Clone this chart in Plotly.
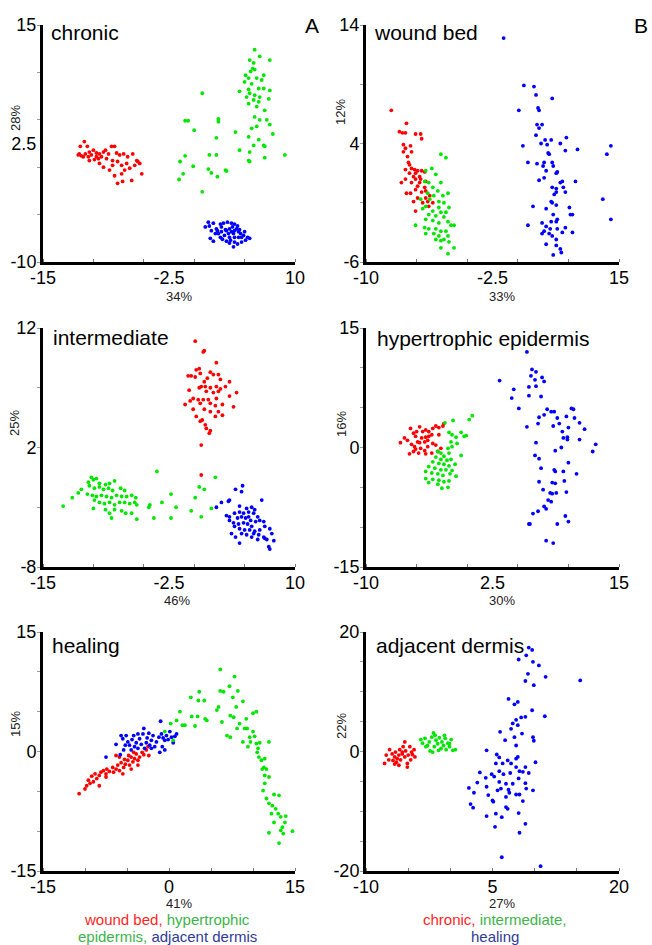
import plotly.graph_objects as go

W, H = 652, 945
FONT = "Liberation Sans, Arial, sans-serif"
RED, GREEN, BLUE = "#ff0000", "#00e600", "#0000ff"

# ---------------- Panel A1: chronic ----------------
chronic_red_x = [-10.9,-11.3,-10.6,-11.5,-11.2,-10.8,-10.4,-10.0,-9.7,-9.4,-9.0,-8.8,-8.5,-8.2,-7.9,-7.7,-7.4,-7.0,-6.6,-6.1,-5.7,-5.4,-5.2,-6.2,-7.1,-7.6,-7.9,-8.4,-9.0,-9.4,-9.9,-10.4,-11.0,-10.5,-9.7,-9.2,-8.7,-8.1,-7.6,-7.2,-6.7,-6.4,-5.9,-5.6,-7.2,-6.9,-8.1,-9.5,-10.2,-11.4]
chronic_red_y = [2.7,2.2,2.2,1.3,1.2,1.4,1.6,1.8,1.5,1.4,1.6,1.8,1.4,2.2,2.2,1.5,1.3,1.4,1.1,1.4,0.7,0.4,-0.7,-1.4,-1.5,-1.7,-0.9,-0.3,0.0,0.4,0.8,0.7,1.1,1.1,1.1,1.1,0.9,0.7,0.6,0.2,0.4,-0.1,0.2,0.6,-0.7,-0.3,0.2,0.9,1.3,1.4]
chronic_green_x = [6.0,6.5,5.5,7.5,5.9,5.8,5.6,6.0,5.1,6.9,5.4,6.2,6.7,5.0,5.7,5.4,4.5,6.4,6.9,7.5,5.5,6.0,5.2,6.5,7.4,5.9,5.4,6.4,6.2,7.0,6.0,6.5,7.2,7.5,5.7,6.2,7.8,5.4,6.4,6.9,5.9,7.0,5.5,4.5,7.0,5.4,5.5,9.0,4.1,2.4,2.4,0.8,-0.6,-0.9,0.0,2.2,-0.9,-1.4,-0.1,1.5,2.2,3.1,3.2,1.4,1.7,2.3,-1.1,-1.5,0.8]
chronic_green_y = [12.4,11.7,11.3,11.3,11.0,10.4,10.1,10.3,9.7,9.7,9.4,9.4,9.2,9.0,8.8,8.2,8.0,8.3,8.3,8.1,7.8,7.6,7.4,7.4,7.2,7.1,6.7,6.9,6.4,6.0,5.3,5.0,5.0,4.5,4.1,4.3,3.5,3.2,2.9,2.3,2.3,2.2,1.6,1.8,1.0,0.7,0.6,1.3,3.7,5.1,4.8,7.8,4.9,4.9,3.9,3.1,1.2,0.6,0.1,1.3,1.3,-0.3,-0.4,-0.2,-0.6,-1.0,-0.7,-1.3,-2.6]
chronic_blue_x = [1.4,1.9,1.5,1.1,1.7,2.2,2.6,2.9,3.3,3.7,4.0,4.3,3.8,3.5,3.1,2.7,2.4,2.1,1.6,1.9,2.6,3.0,3.4,3.7,4.0,4.4,4.6,4.9,5.3,5.5,5.1,4.7,4.3,3.9,3.5,3.2,2.8,4.0,4.4,3.5,3.2,3.9,4.2,4.5,2.7,2.3,3.6,4.0,4.7,5.0]
chronic_blue_y = [-5.8,-5.9,-6.2,-6.3,-6.7,-6.5,-6.0,-5.9,-5.8,-5.9,-6.0,-6.2,-6.3,-6.5,-6.6,-6.8,-7.0,-7.0,-7.5,-7.8,-7.4,-7.2,-7.0,-6.8,-6.7,-6.8,-7.0,-7.2,-7.4,-7.5,-7.7,-7.9,-8.1,-8.4,-8.0,-7.8,-7.6,-7.4,-7.4,-7.4,-6.7,-7.0,-6.5,-6.6,-6.3,-6.7,-7.7,-7.9,-7.4,-6.8]

# ---------------- Panel B1: wound bed ----------------
wound_red_x = [-7.5,-6.0,-6.7,-6.4,-6.1,-5.1,-4.6,-4.5,-6.3,-6.1,-5.6,-6.3,-5.5,-5.9,-5.8,-5.5,-5.2,-4.9,-4.5,-5.1,-5.7,-5.3,-4.7,-4.2,-6.1,-6.5,-5.1,-4.7,-5.5,-4.9,-4.2,-4.1,-4.5,-6.0,-3.7,-4.1,-4.9,-5.3,-4.4,-3.9,-3.4,-5.1,-3.8,-5.6,-5.1,-4.6,-4.1,-6.1,-5.7]
wound_red_y = [6.8,5.7,5.0,4.9,4.9,4.8,4.8,4.4,3.9,3.6,3.8,3.3,3.3,2.9,2.4,1.9,1.8,1.7,1.7,1.5,1.5,1.2,1.2,1.6,1.0,0.7,1.0,0.7,0.7,0.4,0.3,0.0,-0.1,-0.2,-0.4,-0.6,-0.6,-0.9,-1.0,-0.9,-1.0,-1.7,-1.3,-0.2,0.1,1.0,0.8,1.8,2.2]
wound_green_x = [-2.6,-2.1,-3.5,-4.1,-3.1,-2.6,-3.8,-4.2,-3.4,-2.9,-1.9,-2.4,-3.3,-3.7,-2.3,-2.8,-1.8,-4.4,-3.4,-2.6,-3.8,-3.1,-2.3,-1.9,-4.1,-3.4,-2.8,-1.6,-1.3,-5.1,-4.2,-3.8,-3.1,-2.6,-2.1,-4.1,-3.3,-2.8,-1.9,-3.1,-2.3,-2.6,-1.8,-1.3,-2.6,-1.9,-2.8,-2.1,-3.9,-4.6,-4.1]
wound_green_y = [3.1,2.8,1.9,1.7,1.4,0.7,0.7,0.8,0.3,0.0,-0.2,-0.4,-0.4,-0.7,-1.0,-0.9,-1.4,-1.5,-1.7,-1.8,-2.0,-2.1,-2.2,-2.6,-2.4,-2.5,-2.7,-2.9,-2.9,-2.9,-3.1,-3.2,-3.2,-3.4,-3.4,-3.6,-3.6,-3.8,-3.8,-4.1,-4.1,-4.2,-4.3,-4.8,-4.8,-5.3,-1.4,-1.8,-0.2,-0.7,-1.3]
wound_blue_x = [3.6,5.6,6.6,6.8,8.4,5.1,7.0,7.1,6.9,7.4,7.1,6.8,5.5,7.7,8.3,7.3,7.9,8.0,8.1,9.2,9.8,9.7,10.9,14.2,13.8,6.0,6.9,7.6,7.5,7.8,8.4,8.5,8.9,8.8,7.1,7.6,9.4,9.2,10.7,8.4,8.8,9.5,8.8,9.7,8.6,8.3,8.4,6.5,7.8,8.8,10.1,10.4,10.2,13.4,14.2,8.5,8.9,8.8,8.3,7.4,6.0,7.8,8.2,8.9,9.7,7.6,7.4,8.1,9.4,10.4,8.4,8.8,7.8,9.2,8.5,9.3,8.8]
wound_blue_y = [12.9,8.9,8.8,8.1,7.8,6.8,7.0,6.8,5.6,5.6,5.3,4.7,3.8,4.3,4.3,4.0,3.9,3.2,3.1,4.0,4.5,3.4,3.5,3.8,3.1,2.4,2.3,2.4,2.1,1.7,2.4,2.1,1.6,1.5,0.9,1.1,0.8,0.7,0.8,0.3,0.2,0.3,-0.1,-0.1,-0.3,-0.9,-1.0,-1.3,-1.5,-1.2,-1.4,-2.0,-2.0,-0.7,-2.4,-2.0,-2.4,-2.6,-2.6,-2.7,-2.9,-3.0,-3.2,-3.2,-3.1,-3.4,-3.6,-3.6,-3.5,-3.5,-3.8,-4.1,-4.5,-4.9,-5.4,-5.2,-4.6]

# ---------------- Panel A2: intermediate ----------------
inter_red_x = [0.1,1.0,0.9,2.2,0.5,0.2,0.6,-0.6,-0.3,0.1,1.6,1.9,2.4,1.3,1.0,2.6,3.5,1.1,0.5,0.7,1.6,2.2,2.6,3.1,-0.5,1.2,1.9,2.4,4.2,-0.1,0.4,0.9,1.4,2.2,3.5,-0.9,-0.4,0.6,1.6,2.1,2.8,3.9,-0.1,1.0,1.6,2.4,2.8,0.2,0.8,2.1,1.1,1.2,1.6,1.5,0.6,0.7,0.7]
inter_red_y = [10.9,10.1,10.0,9.1,8.6,8.5,8.2,8.0,8.0,7.9,8.3,8.1,8.1,7.8,7.5,7.7,7.5,7.1,7.0,7.1,7.0,7.1,6.9,7.1,6.8,6.7,6.6,6.7,6.6,6.1,6.0,6.0,6.0,6.1,6.3,5.6,5.9,5.7,5.7,5.5,5.6,5.4,5.2,5.2,5.0,5.0,4.7,4.6,4.3,4.6,3.9,3.6,3.4,3.2,4.2,2.2,-0.3]
inter_green_x = [-13.0,-12.1,-11.5,-11.2,-10.5,-10.2,-10.0,-10.4,-9.7,-9.4,-8.8,-8.4,-7.9,-9.9,-9.4,-9.0,-8.5,-8.1,-7.3,-6.9,-10.6,-10.1,-9.7,-9.2,-8.7,-8.2,-7.7,-7.2,-6.7,-6.2,-5.8,-9.9,-9.4,-8.9,-8.4,-7.9,-7.4,-6.9,-6.4,-5.9,-10.0,-8.8,-8.4,-7.9,-7.2,-6.8,-6.2,-5.7,-8.2,-5.7,-4.4,-4.5,-4.0,-3.7,-3.2,-2.3,-2.3,-1.8,-0.3,0.1,0.5,1.0,0.7,1.7,2.1]
inter_green_y = [-2.9,-2.2,-1.8,-1.5,-0.9,-0.5,-0.7,-1.2,-0.6,-1.0,-1.1,-1.0,-0.8,-1.4,-1.3,-1.5,-1.4,-1.6,-1.4,-1.6,-1.9,-2.0,-2.1,-2.0,-2.1,-2.2,-2.0,-2.1,-2.1,-2.0,-2.2,-2.4,-2.6,-2.7,-2.6,-2.8,-2.6,-2.6,-2.7,-2.6,-3.1,-3.2,-3.5,-3.2,-3.3,-3.5,-3.5,-2.8,-3.9,-4.0,-2.8,-3.0,-3.9,0.0,-2.6,-1.9,-3.9,-3.0,-3.3,-2.2,-1.3,-1.5,-3.8,-3.1,-0.5]
inter_blue_x = [4.1,4.8,4.7,3.5,2.7,3.4,2.2,4.5,5.2,5.7,6.0,6.7,3.2,3.5,4.0,4.5,4.9,5.4,5.9,6.3,4.3,4.7,5.1,5.6,6.1,6.5,3.9,4.4,4.9,5.3,5.7,6.9,4.0,4.5,5.0,5.5,6.0,6.5,7.0,7.5,3.7,4.7,5.2,5.9,6.4,6.9,7.7,4.1,5.7,6.3,7.2,7.9,4.5,7.4,7.5,7.0,3.5,5.4]
inter_blue_y = [-1.5,-1.2,-1.7,-2.4,-2.6,-2.5,-3.0,-2.9,-3.1,-3.0,-3.2,-2.4,-3.7,-3.8,-3.5,-3.4,-3.5,-3.4,-3.5,-3.8,-3.9,-3.8,-3.9,-4.1,-4.2,-4.1,-4.3,-4.4,-4.3,-4.4,-4.6,-4.2,-4.6,-4.8,-4.9,-4.9,-5.0,-4.9,-4.6,-4.8,-5.2,-5.2,-5.3,-5.2,-5.3,-5.5,-5.2,-5.5,-5.5,-5.7,-5.7,-5.8,-6.0,-6.3,-6.5,-5.6,-4.1,-3.8]

# ---------------- Panel B2: hypertrophic epidermis ----------------
hyper_red_x = [-6.6,-6.2,-5.9,-5.6,-5.3,-5.1,-4.7,-4.4,-4.1,-3.8,-3.4,-3.1,-2.8,-2.4,-2.3,-5.5,-5.2,-4.9,-4.5,-4.1,-3.9,-3.5,-5.1,-4.6,-4.2,-3.9,-3.4,-3.1,-5.7,-5.3,-4.8,-4.1,-3.5,-2.9,-2.6,-4.7,-5.0,-4.2,-3.8,-2.8]
hyper_red_y = [0.6,1.2,0.9,2.4,1.8,1.4,2.6,2.0,2.2,2.0,2.4,2.7,2.5,2.7,3.0,0.4,0.1,0.7,1.2,1.3,0.9,1.6,-0.2,-0.1,-0.4,0.1,0.5,0.3,-0.8,-0.5,-0.7,-0.8,-0.7,-0.5,-0.1,0.6,2.0,0.7,1.4,1.6]
hyper_green_x = [0.5,0.2,-1.4,-2.2,-0.6,-0.3,-0.1,-1.8,-1.5,-1.1,-1.6,-1.0,-1.5,-1.9,-1.8,-2.6,-2.9,-0.6,-2.3,-3.1,-2.6,-2.0,-1.6,-3.4,-2.8,-2.3,-1.8,-1.2,-3.8,-3.2,-2.6,-2.1,-1.5,-4.1,-3.5,-2.9,-2.4,-1.7,-1.1,-4.1,-3.4,-2.8,-2.3,-1.8,-2.9,-2.5,-1.9,-3.8]
hyper_green_y = [4.0,3.5,3.4,3.1,1.9,1.4,1.5,1.9,1.6,1.3,0.7,0.5,0.1,-0.1,-0.7,-0.7,-0.5,-1.0,-1.1,-1.2,-1.5,-1.6,-1.5,-1.8,-2.0,-2.1,-2.3,-2.1,-2.4,-2.6,-2.8,-2.8,-2.9,-3.0,-3.2,-3.3,-3.5,-3.3,-3.6,-3.9,-4.0,-4.1,-4.3,-4.2,-4.6,-5.1,-5.0,-4.4]
hyper_blue_x = [5.9,6.4,6.8,6.3,6.7,7.4,7.6,3.2,6.1,6.8,4.6,4.4,6.1,7.3,5.1,7.9,8.3,8.6,7.1,7.6,8.9,9.8,10.3,10.5,10.6,11.1,11.6,7.0,8.5,9.1,10.0,5.9,9.4,9.5,9.9,9.9,11.1,6.8,12.7,12.4,9.3,8.7,6.7,7.1,10.0,7.3,8.6,8.7,9.5,10.8,7.1,8.4,8.7,9.6,7.5,8.2,8.8,8.4,9.8,8.0,8.3,7.0,7.6,7.8,6.5,6.1,6.2,8.9,9.7,10.0,7.8,8.5]
hyper_blue_y = [12.0,9.8,9.5,9.0,8.5,8.8,8.3,8.4,7.6,7.7,7.3,6.2,6.5,6.4,4.9,4.8,4.5,4.5,3.8,4.1,3.7,3.9,4.9,4.8,3.7,3.1,2.3,3.0,2.7,3.0,2.5,2.6,2.0,1.2,1.3,1.0,1.0,0.6,0.4,-0.5,0.0,-0.4,-1.0,-1.4,-1.9,-2.6,-2.8,-3.0,-3.0,-3.3,-4.3,-4.4,-4.5,-4.2,-5.3,-5.7,-5.7,-5.8,-5.6,-6.6,-6.8,-8.0,-7.4,-7.7,-8.3,-9.6,-9.6,-9.6,-8.6,-9.3,-11.7,-12.0]

# ---------------- Panel A3: healing ----------------
heal_red_x = [-10.7,-10.0,-9.8,-9.4,-9.6,-9.2,-8.8,-8.6,-8.3,-8.3,-8.1,-7.8,-7.5,-7.4,-7.1,-6.7,-6.6,-6.3,-6.1,-5.9,-5.7,-5.4,-5.2,-4.9,-4.7,-4.5,-4.3,-4.1,-3.9,-3.7,-3.5,-3.2,-3.0,-2.7,-2.4,-2.5,-4.5,-5.3,-5.9,-6.3,-3.7,-4.8,-4.2,-5.5,-7.5,-9.0]
heal_red_y = [-5.3,-4.7,-4.3,-4.0,-3.6,-3.1,-2.8,-3.4,-3.0,-4.3,-2.6,-2.4,-2.8,-2.2,-2.5,-2.0,-2.6,-2.2,-1.7,-2.4,-1.4,-2.0,-1.6,-1.1,-1.7,-0.7,-1.3,-0.9,-0.3,-1.1,-0.7,-0.1,-0.4,0.2,-0.5,0.6,-2.2,-1.0,-0.7,-0.5,-1.7,-0.5,-0.1,-2.8,-3.2,-3.8]
heal_blue_x = [-7.5,-6.3,-5.7,-5.5,-5.1,-4.9,-5.2,-5.4,-4.7,-4.5,-4.4,-4.1,-3.9,-3.7,-3.5,-3.3,-3.1,-3.0,-2.9,-2.7,-2.6,-2.4,-2.3,-2.1,-1.9,-1.7,-1.5,-1.2,-1.1,-0.9,-0.7,-0.5,-0.3,-0.1,0.1,0.3,0.5,0.7,0.9,-1.0,-0.5,-0.8,-2.1,-3.7,-5.8,-4.2]
heal_blue_y = [-0.7,0.9,2.0,1.6,2.0,1.2,0.8,0.2,0.8,0.2,1.5,0.6,1.1,0.4,1.6,0.9,2.2,2.9,0.4,1.1,1.7,2.3,0.8,1.4,2.0,0.6,1.2,1.8,-0.1,2.2,1.7,1.4,2.0,1.5,2.5,1.8,1.1,1.9,2.2,3.8,0.2,0.6,0.4,2.2,-0.4,2.0]
heal_green_x = [-0.5,0.2,0.5,0.9,1.3,1.6,1.9,2.6,2.7,3.1,3.4,3.5,3.6,4.2,4.3,4.5,5.7,5.9,6.1,6.1,6.3,6.5,6.9,7.2,7.3,7.3,7.6,7.7,7.8,8.0,8.1,8.2,8.4,8.8,8.8,9.0,9.2,9.3,9.4,9.6,9.7,10.0,10.2,10.4,10.0,10.4,10.5,10.6,10.7,10.8,11.0,11.1,11.3,11.4,11.6,11.9,11.4,11.9,11.4,11.2,11.6,11.9,12.3,12.5,13.1,12.7,13.0,12.2,13.3,13.9,13.8,13.5,13.3,13.6,14.7,11.9,13.1,12.5]
heal_green_y = [2.5,3.5,1.4,3.9,5.0,3.3,3.3,6.8,4.4,3.2,4.4,6.4,7.5,6.4,4.1,3.9,5.2,5.6,10.3,7.6,3.7,7.5,2.0,8.2,4.5,1.8,6.8,4.3,9.4,5.6,2.9,7.6,3.5,6.3,1.2,2.9,4.1,2.9,0.6,1.8,1.2,4.8,1.9,5.0,2.5,1.0,-0.1,0.4,-0.7,1.1,-1.1,-2.2,-2.0,-0.9,-2.2,1.2,-3.0,-3.2,-4.0,-4.9,-5.9,-6.5,-6.8,-5.4,-5.5,-7.2,-7.8,-7.8,-8.2,-8.1,-8.9,-9.5,-9.9,-10.3,-10.0,-10.2,-11.5,-8.9]

# ---------------- Panel B3: adjacent dermis ----------------
adj_red_x = [-7.8,-7.6,-7.3,-7.2,-6.9,-6.6,-6.5,-6.4,-6.1,-6.0,-5.9,-5.7,-5.6,-5.4,-5.3,-5.1,-5.0,-4.8,-4.7,-4.5,-4.3,-4.2,-5.4,-6.1,-6.6,-5.1,-5.7,-6.3,-6.8,-4.6]
adj_red_y = [-2.0,-0.6,-1.4,0.3,-0.4,-0.9,-0.1,-1.8,-0.6,0.3,-1.4,-0.4,0.8,-0.9,0.1,-2.0,-0.6,0.8,-1.4,-0.5,0.3,-0.9,1.6,-2.3,-2.1,-2.6,-0.1,-1.2,-1.5,-0.1]
adj_green_x = [-3.5,-3.3,-3.0,-2.7,-2.5,-2.4,-2.2,-2.0,-1.9,-1.7,-1.5,-1.3,-1.1,-1.0,-0.8,-0.6,-0.5,-0.3,-0.1,0.1,0.3,0.6,-2.9,-2.1,-1.4,-0.7,-1.8,-0.1]
adj_green_y = [2.0,1.4,2.2,1.0,1.6,0.1,2.4,3.1,0.8,1.9,1.3,2.3,0.5,1.6,1.0,2.2,0.3,1.4,0.8,2.0,0.2,0.3,0.8,-0.1,0.2,2.7,2.7,1.3]
adj_blue_x = [9.3,9.7,9.0,8.1,9.8,10.5,9.2,11.3,8.9,15.4,9.9,6.9,8.0,7.6,9.7,11.2,8.4,8.9,7.8,7.4,8.0,7.2,8.5,9.8,9.9,5.9,7.6,6.5,7.8,4.3,5.5,5.8,10.1,6.8,8.0,7.8,5.4,6.2,7.2,7.8,8.9,3.5,4.9,5.8,6.3,7.1,8.2,8.6,8.1,9.3,4.2,5.2,3.2,5.8,6.6,7.4,8.9,4.3,2.2,5.6,6.9,9.0,2.8,4.5,6.0,7.0,7.8,8.2,9.8,5.0,5.1,6.6,8.6,2.4,2.7,6.6,6.8,8.1,5.4,6.1,4.3,8.9,5.3,8.2,6.1,10.7]
adj_blue_y = [17.4,17.0,16.1,15.4,15.0,14.4,13.0,12.5,11.8,11.9,11.1,8.8,8.3,7.9,6.9,5.9,5.7,5.8,5.3,4.7,4.4,3.8,3.0,2.4,1.8,3.3,2.4,1.9,1.0,0.2,-0.5,-1.0,-1.8,-1.5,-0.9,-1.2,-2.0,-2.0,-2.0,-2.6,-2.6,-3.5,-3.8,-3.3,-3.8,-3.6,-3.3,-3.4,-4.5,-3.6,-4.4,-4.2,-5.2,-5.1,-5.4,-5.4,-5.3,-5.9,-6.1,-6.5,-6.4,-6.2,-6.9,-7.3,-6.2,-6.9,-7.2,-7.2,-6.5,-8.2,-8.4,-7.6,-8.3,-8.8,-9.4,-9.3,-9.6,-10.3,-10.4,-11.0,-10.8,-12.1,-12.6,-13.6,-17.7,-19.2]

# ---------------- panel definitions ----------------
panels = [
    ("chronic", [-15, 10], [-10, 15], ([-15, -2.5, 10], ["-15", "-2.5", "10"]), ([-10, 2.5, 15], ["-10", "2.5", "15"]), "34%", "28%",
     [(chronic_red_x, chronic_red_y, RED), (chronic_green_x, chronic_green_y, GREEN), (chronic_blue_x, chronic_blue_y, BLUE)]),
    ("wound bed", [-10, 15], [-6, 14], ([-10, 2.5, 15], ["-10", "-2.5", "15"]), ([-6, 4, 14], ["-6", "4", "14"]), "33%", "12%",
     [(wound_red_x, wound_red_y, RED), (wound_green_x, wound_green_y, GREEN), (wound_blue_x, wound_blue_y, BLUE)]),
    ("intermediate", [-15, 10], [-8, 12], ([-15, -2.5, 10], ["-15", "-2.5", "10"]), ([-8, 2, 12], ["-8", "2", "12"]), "46%", "25%",
     [(inter_red_x, inter_red_y, RED), (inter_green_x, inter_green_y, GREEN), (inter_blue_x, inter_blue_y, BLUE)]),
    ("hypertrophic epidermis", [-10, 15], [-15, 15], ([-10, 2.5, 15], ["-10", "2.5", "15"]), ([-15, 0, 15], ["-15", "0", "15"]), "30%", "16%",
     [(hyper_red_x, hyper_red_y, RED), (hyper_green_x, hyper_green_y, GREEN), (hyper_blue_x, hyper_blue_y, BLUE)]),
    ("healing", [-15, 15], [-15, 15], ([-15, 0, 15], ["-15", "0", "15"]), ([-15, 0, 15], ["-15", "0", "15"]), "41%", "15%",
     [(heal_red_x, heal_red_y, RED), (heal_blue_x, heal_blue_y, BLUE), (heal_green_x, heal_green_y, GREEN)]),
    ("adjacent dermis", [-10, 20], [-20, 20], ([-10, 5, 20], ["-10", "5", "20"]), ([-20, 0, 20], ["-20", "0", "20"]), "27%", "22%",
     [(adj_red_x, adj_red_y, RED), (adj_green_x, adj_green_y, GREEN), (adj_blue_x, adj_blue_y, BLUE)]),
]

# layout geometry (pixels)
col_x = [(43, 295), (366, 619)]
row_y = [(25, 262), (328, 567), (632, 871)]
title_pos = [(49, 33), (372, 33), (51, 337), (375, 338), (50, 645), (374, 645)]
xtitle_pos = [(179, 296), (502, 296), (177, 600), (502, 600), (179, 903), (502, 903)]
ytitle_pos = [(15, 118), (341, 112), (15, 423), (341, 424), (15, 724), (341, 726)]

def px(x):
    return x / W

def py(y):
    return 1 - y / H

fig = go.Figure()
annotations = []
layout_axes = {}
for i, (title, xr, yr, xt, yt, xtitle, ytitle, series) in enumerate(panels):
    r, c = divmod(i, 2)
    n = "" if i == 0 else str(i + 1)
    xa, ya = "x" + n, "y" + n
    for sx, sy, col in series:
        fig.add_trace(go.Scatter(x=sx, y=sy, mode="markers", xaxis=xa, yaxis=ya,
                                 marker=dict(size=3.8, color=col, line=dict(width=0)),
                                 showlegend=False, hoverinfo="skip"))
    common = dict(showline=True, linecolor="black", linewidth=3, showgrid=False, zeroline=False,
                  ticks="", tickmode="array", tickfont=dict(size=18, color="black", family=FONT),
                  fixedrange=True, automargin=False)
    layout_axes["xaxis" + n] = dict(common, domain=[px(col_x[c][0]), px(col_x[c][1])], range=xr,
                                    tickvals=xt[0], ticktext=xt[1], anchor=ya, ticklabelstandoff=-3,
                                    minor=dict(tickmode="linear", tick0=xr[0], dtick=5, ticks="inside",
                                               ticklen=3, tickwidth=1, tickcolor="#777", showgrid=False))
    layout_axes["yaxis" + n] = dict(common, domain=[py(row_y[r][1]), py(row_y[r][0])], range=yr,
                                    tickvals=yt[0], ticktext=yt[1], anchor=xa,
                                    minor=dict(tickmode="linear", tick0=yr[0], dtick=5, ticks="outside",
                                               ticklen=3, tickwidth=1, tickcolor="#999", showgrid=False))
    tx, ty = title_pos[i]
    annotations.append(dict(text=title, x=px(tx), y=py(ty), xref="paper", yref="paper",
                            xanchor="left", yanchor="middle", showarrow=False,
                            font=dict(size=21, color="black", family=FONT)))
    ax_, ay_ = xtitle_pos[i]
    annotations.append(dict(text=xtitle, x=px(ax_), y=py(ay_), xref="paper", yref="paper",
                            xanchor="center", yanchor="middle", showarrow=False,
                            font=dict(size=13, color="#222", family=FONT)))
    bx, by = ytitle_pos[i]
    annotations.append(dict(text=ytitle, x=px(bx), y=py(by), xref="paper", yref="paper",
                            xanchor="center", yanchor="middle", showarrow=False, textangle=-90,
                            font=dict(size=13, color="#222", family=FONT)))

# panel letters
annotations.append(dict(text="A", x=px(312), y=py(25), xref="paper", yref="paper", showarrow=False,
                        xanchor="center", yanchor="middle", font=dict(size=21, color="black", family=FONT)))
annotations.append(dict(text="B", x=px(641), y=py(25), xref="paper", yref="paper", showarrow=False,
                        xanchor="center", yanchor="middle", font=dict(size=21, color="black", family=FONT)))

# captions
CR, CG, CB = "#ff1f1f", "#3cb44b", "#2e3b98"
captions = [
    (167, 919, f"<span style='color:{CR}'>wound bed,</span> <span style='color:{CG}'>hypertrophic</span>"),
    (167, 936, f"<span style='color:{CG}'>epidermis,</span> <span style='color:{CB}'>adjacent dermis</span>"),
    (495, 919, f"<span style='color:{CR}'>chronic,</span> <span style='color:{CG}'>intermediate,</span>"),
    (495, 936, f"<span style='color:{CB}'>healing</span>"),
]
for cx, cy, txt in captions:
    annotations.append(dict(text=txt, x=px(cx), y=py(cy), xref="paper", yref="paper", showarrow=False,
                            xanchor="center", yanchor="middle", font=dict(size=15, family=FONT)))

fig.update_layout(width=W, height=H, margin=dict(l=0, r=0, t=0, b=0, pad=0, autoexpand=False),
                  paper_bgcolor="white", plot_bgcolor="white",
                  annotations=annotations, **layout_axes)

fig.write_html("out.html", config={"displayModeBar": False, "staticPlot": True},
               post_script="document.body.style.margin='0';document.body.style.padding='0';"
                           "document.documentElement.style.overflow='hidden';")
